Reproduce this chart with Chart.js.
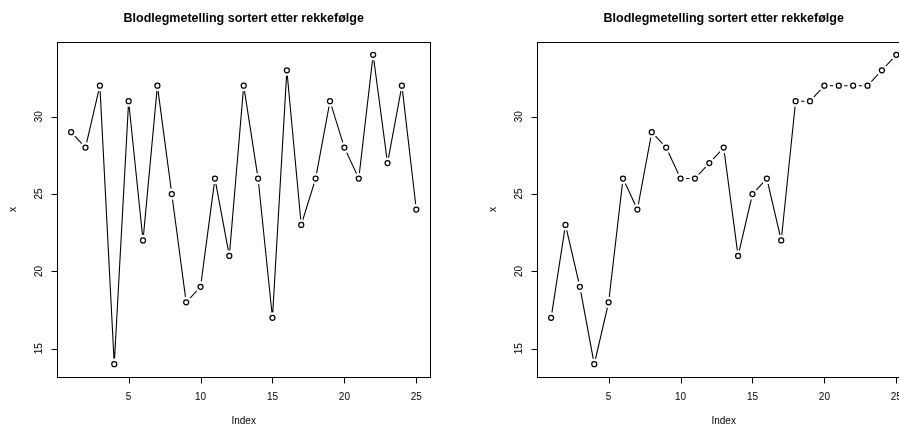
<!DOCTYPE html>
<html><head><meta charset="utf-8">
<script src="https://cdn.jsdelivr.net/npm/chart.js@4"></script>
<style>
html,body{margin:0;padding:0;overflow:hidden;background:#fff;width:899px;height:427px}
.p{position:absolute;top:0;width:480px;height:427px}
</style></head><body>
<div class="p" style="left:0"><canvas id="c1" width="480" height="427"></canvas></div>
<div class="p" style="left:480px"><canvas id="c2" width="480" height="427"></canvas></div>
<script>
const indexValues = [1,2,3,4,5,6,7,8,9,10,11,12,13,14,15,16,17,18,19,20,21,22,23,24,25];
const seriesLeft  = [29,28,32,14,31,22,32,25,18,19,26,21,32,26,17,33,23,26,31,28,26,34,27,32,24];
const seriesRight = [17,23,19,14,18,26,24,29,28,26,26,27,28,21,25,26,22,31,31,32,32,32,32,33,34];
const xTicks = [5,10,15,20,25];
const yTicks = [15,20,25,30];
const titleText = "Blodlegmetelling sortert etter rekkefølge";
const xTitle = "Index";
const yTitle = "x";

const FONT = '"Liberation Sans", Arial, Helvetica, sans-serif';

const axesPlugin = {
  id: 'rAxes',
  afterDraw(chart) {
    const ctx = chart.ctx, a = chart.chartArea;
    const xs = chart.scales.x, ys = chart.scales.y;
    ctx.save();
    ctx.strokeStyle = '#000';
    ctx.fillStyle = '#000';
    ctx.lineWidth = 1;
    // box
    ctx.strokeRect(Math.round(a.left) + 0.5, Math.round(a.top) + 0.5,
                   Math.round(a.right) - Math.round(a.left), Math.round(a.bottom) - Math.round(a.top));
    const bot = Math.round(a.bottom) + 0.5, lef = Math.round(a.left) + 0.5;
    // ticks
    ctx.font = '10px ' + FONT;
    ctx.textAlign = 'center';
    ctx.textBaseline = 'middle';
    ctx.beginPath();
    xTicks.forEach(v => {
      const px = Math.round(xs.getPixelForValue(v)) + 0.5;
      ctx.moveTo(px, bot); ctx.lineTo(px, bot + 6);
    });
    yTicks.forEach(v => {
      const py = Math.round(ys.getPixelForValue(v)) + 0.5;
      ctx.moveTo(lef, py); ctx.lineTo(lef - 6, py);
    });
    ctx.stroke();
    xTicks.forEach(v => {
      ctx.fillText(String(v), xs.getPixelForValue(v), bot + 20);
    });
    yTicks.forEach(v => {
      ctx.save();
      ctx.translate(lef - 18, ys.getPixelForValue(v));
      ctx.rotate(-Math.PI / 2);
      ctx.fillText(String(v), 0, 0);
      ctx.restore();
    });
    // axis titles
    ctx.fillText(xTitle, (a.left + a.right) / 2, 421.5);
    ctx.save();
    ctx.translate(13, (a.top + a.bottom) / 2);
    ctx.rotate(-Math.PI / 2);
    ctx.fillText(yTitle, 0, 0);
    ctx.restore();
    // title
    ctx.font = 'bold 12.5px ' + FONT;
    ctx.textBaseline = 'alphabetic';
    ctx.fillText(titleText, (a.left + a.right) / 2, 21.7);
    ctx.restore();
  }
};

function makeChart(id, values) {
  const pts = indexValues.map((x, i) => ({x: x, y: values[i]}));
  return new Chart(document.getElementById(id), {
    type: 'line',
    data: {
      datasets: [
        {data: pts, borderColor: '#000', borderWidth: 1.1, pointRadius: 0, tension: 0, fill: false, order: 3},
        {data: pts, showLine: false, pointRadius: 5.6, pointBackgroundColor: '#fff', pointBorderWidth: 0, pointBorderColor: '#fff', order: 2},
        {data: pts, showLine: false, pointRadius: 2.5, pointBackgroundColor: '#fff', pointBorderColor: '#000', pointBorderWidth: 1.25, order: 1}
      ]
    },
    options: {
      responsive: false,
      animation: false,
      devicePixelRatio: 1,
      layout: {padding: {left: 57.3, right: 49.9, top: 42.4, bottom: 50.4}},
      plugins: {legend: {display: false}, tooltip: {enabled: false}, title: {display: false}},
      scales: {
        x: {type: 'linear', display: false, min: 0.04, max: 25.96},
        y: {type: 'linear', display: false, min: 13.2, max: 34.8}
      },
      elements: {point: {hoverRadius: 0}}
    },
    plugins: [axesPlugin]
  });
}
makeChart('c1', seriesLeft);
makeChart('c2', seriesRight);
</script>
</body></html>
